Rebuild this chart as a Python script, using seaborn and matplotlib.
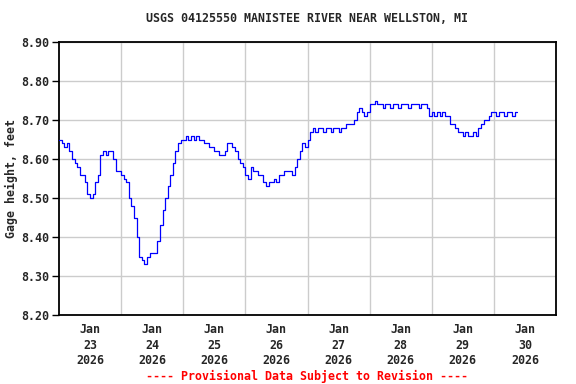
import pandas as pd
import numpy as np
import matplotlib
matplotlib.use("Agg")
import matplotlib.pyplot as plt
import seaborn as sns

# ── Data: hourly gage height readings (ft) ────────────────────────────────────
START = "2026-01-22 12:00"
GAGE_HEIGHT = [
    8.65, 8.64, 8.63, 8.64, 8.62, 8.60, 8.59, 8.58, 8.56, 8.56,
    8.54, 8.51, 8.50, 8.51, 8.54, 8.56, 8.61, 8.62, 8.61, 8.62,
    8.62, 8.60, 8.57, 8.57, 8.56, 8.55, 8.54, 8.50, 8.48, 8.45,
    8.40, 8.35, 8.34, 8.33, 8.35, 8.36, 8.36, 8.36, 8.39, 8.43,
    8.47, 8.50, 8.53, 8.56, 8.59, 8.62, 8.64, 8.65, 8.65, 8.66,
    8.65, 8.66, 8.65, 8.66, 8.65, 8.65, 8.64, 8.64, 8.63, 8.63,
    8.62, 8.62, 8.61, 8.61, 8.62, 8.64, 8.64, 8.63, 8.62, 8.60,
    8.59, 8.58, 8.56, 8.55, 8.58, 8.57, 8.57, 8.56, 8.56, 8.54,
    8.53, 8.54, 8.54, 8.55, 8.54, 8.56, 8.56, 8.57, 8.57, 8.57,
    8.56, 8.58, 8.60, 8.62, 8.64, 8.63, 8.65, 8.67, 8.68, 8.67,
    8.68, 8.68, 8.67, 8.68, 8.68, 8.67, 8.68, 8.68, 8.67, 8.68,
    8.68, 8.69, 8.69, 8.69, 8.70, 8.72, 8.73, 8.72, 8.71, 8.72,
    8.74, 8.74, 8.75, 8.74, 8.74, 8.73, 8.74, 8.74, 8.73, 8.74,
    8.74, 8.73, 8.74, 8.74, 8.74, 8.73, 8.74, 8.74, 8.74, 8.73,
    8.74, 8.74, 8.73, 8.71, 8.72, 8.71, 8.72, 8.71, 8.72, 8.71,
    8.71, 8.69, 8.69, 8.68, 8.67, 8.67, 8.66, 8.67, 8.66, 8.66,
    8.67, 8.66, 8.68, 8.69, 8.70, 8.70, 8.71, 8.72, 8.72, 8.71,
    8.72, 8.72, 8.71, 8.72, 8.72, 8.71, 8.72, 8.72,
]
TICK_DAYS = ["2026-01-23", "2026-01-24", "2026-01-25", "2026-01-26",
             "2026-01-27", "2026-01-28", "2026-01-29", "2026-01-30"]
Y_TICKS = [8.20, 8.30, 8.40, 8.50, 8.60, 8.70, 8.80, 8.90]

TITLE = "USGS 04125550 MANISTEE RIVER NEAR WELLSTON, MI"
YLABEL = "Gage height, feet"
FOOTNOTE = "---- Provisional Data Subject to Revision ----"

df = pd.DataFrame({
    "time": pd.date_range(START, periods=len(GAGE_HEIGHT), freq="h"),
    "gage": GAGE_HEIGHT,
})

# ── Style ─────────────────────────────────────────────────────────────────────
sns.set_style("white")
plt.rcParams["font.family"] = ["DejaVu Sans Mono"]
plt.rcParams["font.weight"] = "bold"
FS = 8.4

fig = plt.figure(figsize=(5.76, 3.84), dpi=100)
ax = fig.add_axes([59 / 576, 1 - 315 / 384, 497 / 576, 273 / 384])

sns.lineplot(data=df, x="time", y="gage", ax=ax, color="#0000FF",
             linewidth=0.9, drawstyle="steps-post", zorder=3)

# ── Axes ──────────────────────────────────────────────────────────────────────
ticks = pd.to_datetime(TICK_DAYS)
ax.set_xlim(ticks[0] - pd.Timedelta(hours=12), ticks[-1] + pd.Timedelta(hours=12))
ax.set_ylim(Y_TICKS[0], Y_TICKS[-1])

ax.set_xticks(ticks)
ax.set_xticklabels([t.strftime("%b\n%d\n%Y") for t in ticks],
                   fontsize=FS, fontweight="bold", linespacing=1.25)
ax.set_xticks(ticks[:-1] + pd.Timedelta(hours=12), minor=True)
ax.set_yticks(Y_TICKS)
ax.set_yticklabels([f"{v:.2f}" for v in Y_TICKS], fontsize=FS, fontweight="bold")

ax.tick_params(axis="x", which="both", length=0, pad=6)
ax.tick_params(axis="y", length=5, width=1, color="black", pad=2, left=True)

ax.grid(False)
ax.grid(True, axis="y", which="major", color="#CCCCCC", linewidth=1)
ax.grid(True, axis="x", which="minor", color="#CCCCCC", linewidth=1)
ax.set_axisbelow(True)

for s in ax.spines.values():
    s.set_color("black")
    s.set_linewidth(1.3)
    s.set_visible(True)

ax.set_xlabel("")
ax.set_ylabel(YLABEL, fontsize=FS, fontweight="bold")
ax.yaxis.set_label_coords((18 - 59) / 497, 0.5)

fig.text(307 / 576, 1 - 19 / 384, TITLE, ha="center", va="center",
         fontsize=FS, fontweight="bold")
fig.text(307 / 576, 1 - 376 / 384, FOOTNOTE, ha="center", va="center",
         fontsize=FS, fontweight="bold", color="#FF0000")

fig.savefig("out.png", dpi=100)
plt.close(fig)
